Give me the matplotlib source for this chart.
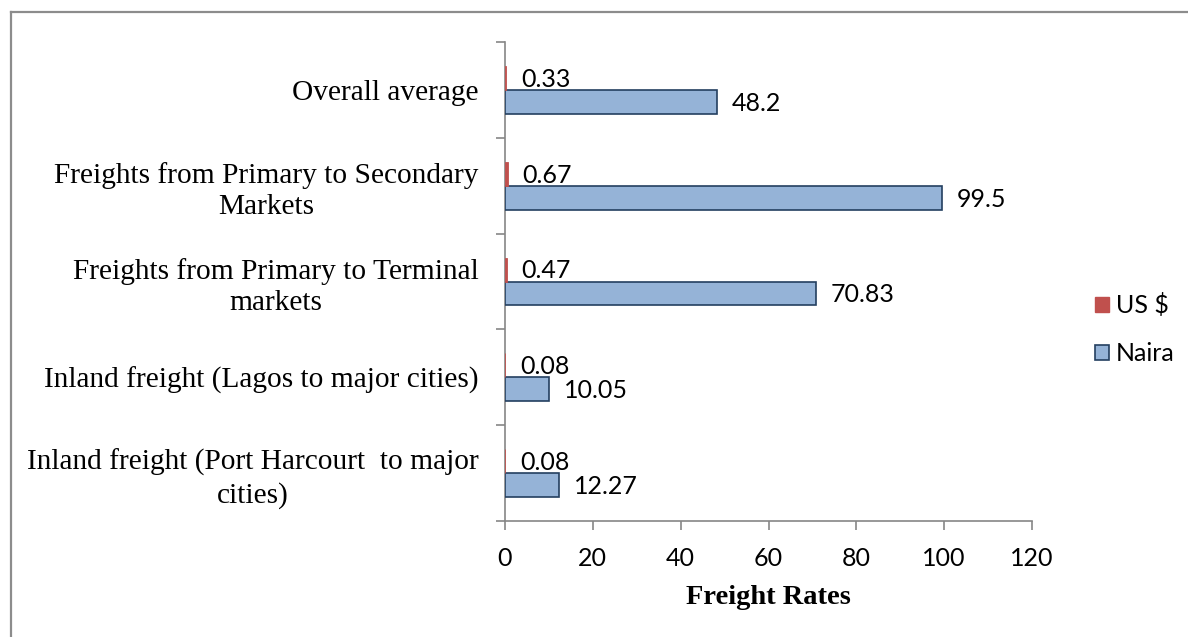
import matplotlib
matplotlib.use("Agg")
import matplotlib.pyplot as plt
from matplotlib.patches import Patch
from matplotlib.lines import Line2D

categories = [
    "Inland freight (Port Harcourt  to major\ncities)",
    "Inland freight (Lagos to major cities)",
    "Freights from Primary to Terminal\nmarkets",
    "Freights from Primary to Secondary\nMarkets",
    "Overall average",
]
naira = [12.27, 10.05, 70.83, 99.5, 48.2]
usd = [0.08, 0.08, 0.47, 0.67, 0.33]
naira_labels = ["12.27", "10.05", "70.83", "99.5", "48.2"]
usd_labels = ["0.08", "0.08", "0.47", "0.67", "0.33"]
x_ticks = [0, 20, 40, 60, 80, 100, 120]

W, H = 1188, 637
fig = plt.figure(figsize=(W / 100, H / 100), dpi=100)

# outer chart-area border (only top and left edges fall inside the image)
fig.add_artist(Line2D([11 / W, 11 / W], [0, 1 - 12 / H], transform=fig.transFigure,
                      color="#8c8c8c", lw=1.6))
fig.add_artist(Line2D([11 / W, 1], [1 - 12 / H, 1 - 12 / H], transform=fig.transFigure,
                      color="#8c8c8c", lw=1.6))

ax = fig.add_axes([505 / W, 1 - 521 / H, (1032 - 505) / W, (521 - 42) / H])

bh = 0.25
ypos = list(range(len(categories)))
ax.barh([y - bh / 2 for y in ypos], naira, height=bh, color="#95B3D7",
        edgecolor="#243F60", linewidth=1.2, zorder=3)
ax.barh([y + bh / 2 for y in ypos], usd, height=bh, color="#C0504D",
        edgecolor="#C0504D", linewidth=0.6, zorder=3)

lab_font = dict(family="Lato", fontsize=18, color="black")
for y, v, t in zip(ypos, naira, naira_labels):
    ax.annotate(t, (v, y - bh / 2), xytext=(10.5, -1), textcoords="offset points",
                ha="left", va="center", **lab_font)
for y, v, t in zip(ypos, usd, usd_labels):
    ax.annotate(t, (v, y + bh / 2), xytext=(10.5, -1), textcoords="offset points",
                ha="left", va="center", **lab_font)

ax.set_xlim(0, 120)
ax.set_ylim(-0.5, len(categories) - 0.5)

ax.set_xticks(x_ticks)
ax.set_xticklabels([str(t) for t in x_ticks], family="Lato", fontsize=18)
ax.tick_params(axis="x", direction="out", length=6.5, width=1.2, color="#868686", pad=12)

ax.set_yticks([i - 0.5 for i in range(len(categories) + 1)])
ax.set_yticklabels([])
ax.tick_params(axis="y", which="major", direction="out", length=6.5, width=1.2,
               color="#868686")
ax.set_yticks(ypos, minor=True)
ax.set_yticklabels(categories, minor=True, family="Liberation Serif", fontsize=21.2,
                   multialignment="center", linespacing=1.25)
ax.tick_params(axis="y", which="minor", length=0, pad=19)

for side in ["top", "right"]:
    ax.spines[side].set_visible(False)
for side in ["left", "bottom"]:
    ax.spines[side].set_color("#868686")
    ax.spines[side].set_linewidth(1.2)

ax.set_xlabel("Freight Rates", family="Liberation Serif", fontweight="bold",
              fontsize=20.5, labelpad=11)

handles = [Patch(facecolor="#C0504D", edgecolor="#C0504D", label="US $"),
           Patch(facecolor="#95B3D7", edgecolor="#243F60", linewidth=1.2, label="Naira")]
fig.legend(handles=handles, loc="center left", bbox_to_anchor=(1095 / W, 1 - 329 / H),
           frameon=False, prop=dict(family="Lato", size=18), handlelength=0.55,
           handleheight=0.55, handletextpad=0.3, labelspacing=1.0,
           borderpad=0, borderaxespad=0)

fig.savefig("out.png", dpi=100)
